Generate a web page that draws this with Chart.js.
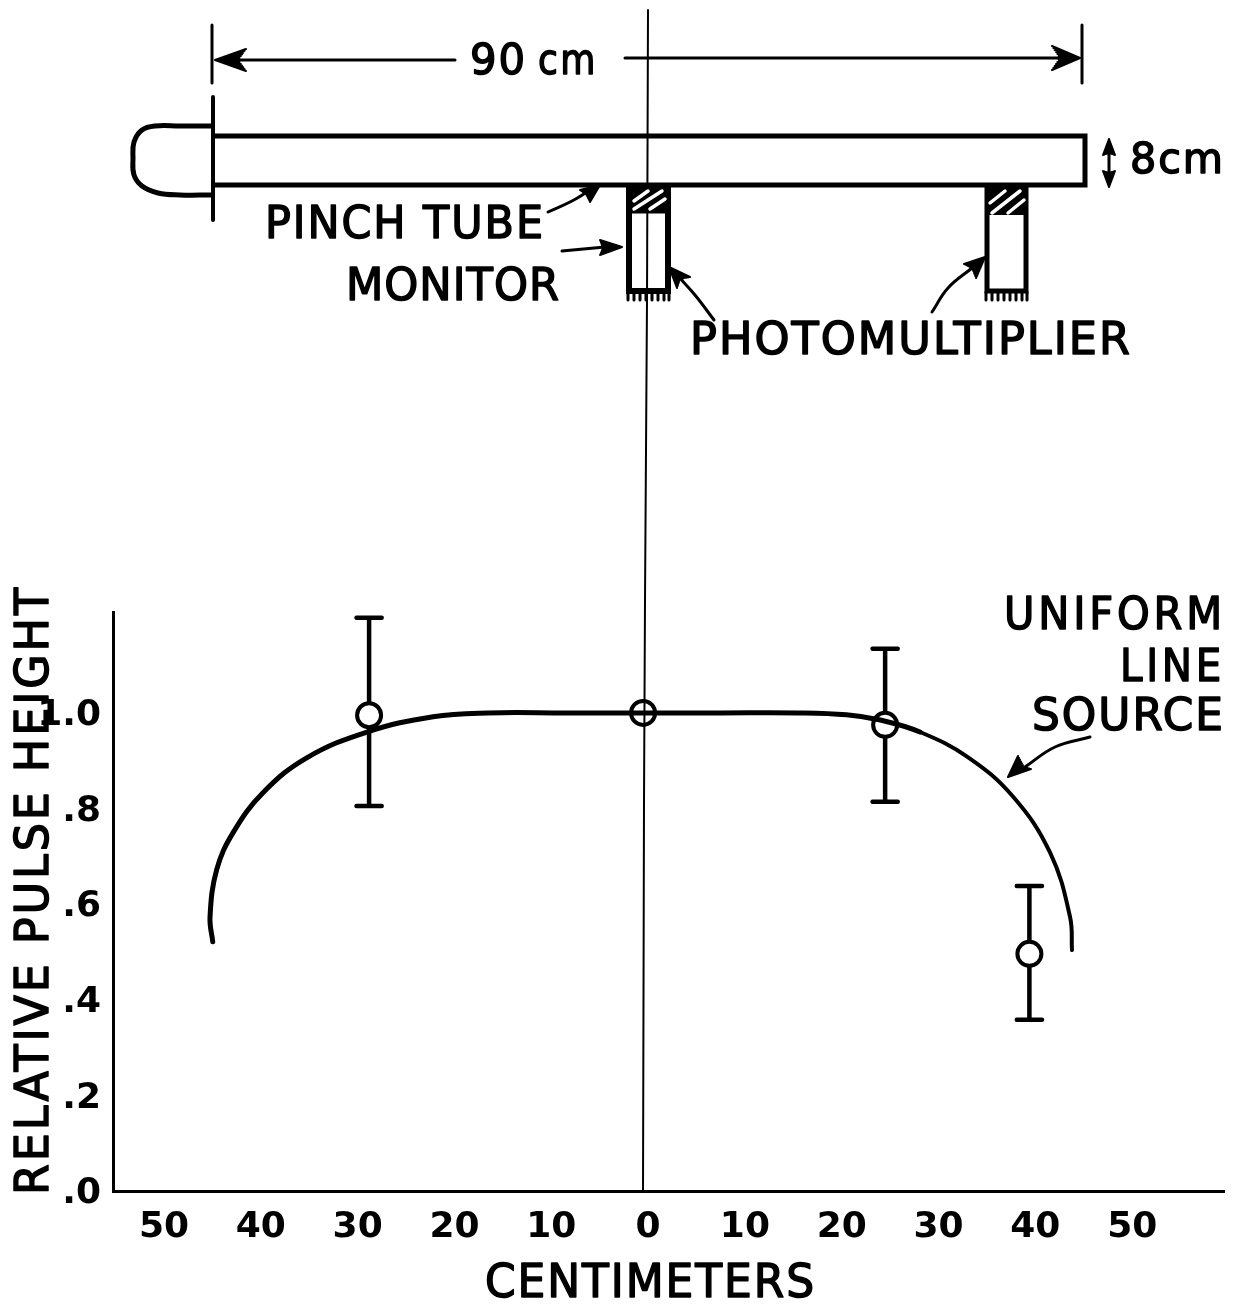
<!DOCTYPE html>
<html><head><meta charset="utf-8">
<style>html,body{margin:0;padding:0;background:#fff}#w{width:1235px;height:1305px}canvas{display:block}</style>
<script src="https://cdn.jsdelivr.net/npm/chart.js@4"></script>
</head><body><div id="w"><canvas id="c" width="1235" height="1305"></canvas></div>
<script>
// Chart values (centimetres, relative pulse height)
const curveX=[-44.45,-44.73,-44.04,-42.36,-39.26,-34.74,-28.51,-21.69,-16,-8,0,8,16,21,24.5,28.6,33.5,38.2,42.05,44.1,44.3];
const curveY=[.5215,.573,.672,.749,.833,.906,.96,.992,1,1,1,1,1,.996,.985,.96,.908,.825,.707,.573,.504];
const obsX=[-28.3,0,25,39.9];
const obsY=[.995,1.0,.975,.496];
const obsHigh=[1.199,null,1.134,.638];
const obsLow=[.805,null,.814,.358];
const capHalf=1.3;
const xTicks=[-50,-40,-30,-20,-10,0,10,20,30,40,50];
const yTicks=[0,.2,.4,.6,.8,1];
const yTickLabels=['.0','.2','.4','.6','.8','1.0'];

// Schematic strokes, in the page-sized diagram scales dx / dy
const centerLine=[[648,10],[647,300],[645,600],[644,800],[643,1191]];
const endBarL=[[212,25],[212,83]];
const endBarR=[[1082,25],[1082,83]];
const dimL=[[220,60],[455,60]];
const dimR=[[625,58],[1075,58]];
const headDimL=[[215,60],[246,49],[238,60],[246,71]];
const headDimR=[[1080,58],[1052,46],[1060,58],[1052,70]];
const tube=[[213,136],[1085,136],[1085,185],[213,185]];
const flange=[[213,97],[213,220]];
const cap=[[212,126],[180,126],[155,126],[142,130],[134,142],[133,158],[134,175],[142,186],[158,193],[180,195],[212,195]];
const size8=[[1109,150],[1109,174]];
const head8a=[[1109,139],[1103,155],[1109,153],[1115,155]];
const head8b=[[1109,187],[1103,171],[1109,173],[1115,171]];
const arrPinch=[[548,212],[572,201],[590,190]];
const headPinch=[[600,185],[580,190],[586,194],[590,202]];
const arrMon=[[562,251],[605,247]];
const headMon=[[622,247],[600,240],[603,248],[600,255]];
const arrPm1=[[714,320],[695,295],[678,276]];
const headPm1=[[669,267],[690,277],[680,279],[677,288]];
const arrPm2=[[932,312],[948,288],[972,268]];
const headPm2=[[985,257],[964,264],[972,268],[976,278]];
const arrLine=[[1090,737],[1055,747],[1025,767]];
const headLine=[[1008,777],[1018,756],[1024,767],[1031,769]];
const pm1Walls=[[629,186],[629,291],[668,291],[668,186]];
const pm2Walls=[[987,186],[987,291],[1026,291],[1026,186]];
const pm1Block=[[629,200],[668,200]];
const pm2Block=[[987,201],[1026,201]];
const pm1Hatch=[[[634,201],[648,191]],[[634,209],[662,191]],[[650,209],[665,199]]];
const pm2Hatch=[[[990,203],[1005,191]],[[992,213],[1020,191]],[[1008,213],[1024,200]]];
const pm1Teeth=[628,634,640,646,652,658,664,669];
const pm2Teeth=[986,992,998,1004,1010,1016,1022,1027];
const teethTop=292, teethBottom=300;

const stroke=(pts,w,extra)=>Object.assign({type:'line',xAxisID:'dx',yAxisID:'dy',data:pts.map(p=>p?{x:p[0],y:p[1]}:{x:null,y:null}),
  borderColor:'#000',borderWidth:w,pointRadius:0,clip:false,tension:0,borderCapStyle:'round',borderJoinStyle:'round',order:5},extra||{});
const joinSegs=segs=>segs.flatMap((s,i)=>i?[null,...s]:s);
const teeth=xs=>joinSegs(xs.map(x=>[[x,teethTop],[x,teethBottom]]));
// solid arrowhead: the outline [tip, back, notch, back] swept with short strokes
const solid=h=>{const [t,...b]=h,out=[];for(let e=0;e<b.length-1;e++)for(let k=0;k<=6;k++){const f=k/6;out.push(t,[b[e][0]+(b[e+1][0]-b[e][0])*f,b[e][1]+(b[e+1][1]-b[e][1])*f]);}return out;};

const errSegs=[];
obsX.forEach((x,i)=>{ if(obsHigh[i]==null) return;
  errSegs.push({x:x,y:obsHigh[i]},{x:x,y:obsLow[i]},{x:null,y:null},
    {x:x-capHalf,y:obsHigh[i]},{x:x+capHalf,y:obsHigh[i]},{x:null,y:null},
    {x:x-capHalf,y:obsLow[i]},{x:x+capHalf,y:obsLow[i]},{x:null,y:null});
});

const datasets=[
  {type:'line',label:'Uniform line source',data:curveX.map((x,i)=>({x:x,y:curveY[i]})),borderColor:'#000',borderWidth:5,pointRadius:0,tension:.4,borderCapStyle:'round',clip:false,order:1,
    segment:{borderWidth:c=>c.p0.parsed.x>28?4:5}},
  {type:'line',label:'Measured',data:obsX.map((x,i)=>({x:x,y:obsY[i]})),showLine:false,pointStyle:'circle',pointRadius:12,pointBorderWidth:4,pointBorderColor:'#000',
    pointBackgroundColor:obsX.map(x=>x===0?'rgba(255,255,255,0)':'#fff'),clip:false,order:2},
  {type:'line',label:'Error',data:errSegs,borderColor:'#000',borderWidth:4.5,pointRadius:0,borderCapStyle:'round',clip:false,order:3},
  stroke(centerLine,2,{order:4}),
  stroke(endBarL,3),stroke(endBarR,3),stroke(dimL,3),stroke(dimR,3),stroke(solid(headDimL),2),stroke(solid(headDimR),2),
  stroke(tube,5,{borderCapStyle:'butt',borderJoinStyle:'miter'}),stroke(flange,4),stroke(cap,5,{tension:.4}),
  stroke(size8,3),stroke(solid(head8a),2),stroke(solid(head8b),2),
  stroke(arrPinch,3,{tension:.4}),stroke(solid(headPinch),2),stroke(arrMon,3),stroke(solid(headMon),2),
  stroke(arrPm1,3,{tension:.4}),stroke(solid(headPm1),2),stroke(arrPm2,3,{tension:.4}),stroke(solid(headPm2),2),
  stroke(arrLine,3,{tension:.4}),stroke(solid(headLine),2),
  stroke(pm1Walls,6,{borderCapStyle:'butt',borderJoinStyle:'miter'}),stroke(pm2Walls,5,{borderCapStyle:'butt',borderJoinStyle:'miter'}),
  stroke(teeth(pm1Teeth),3),stroke(teeth(pm2Teeth),3),
  stroke(pm1Block,27,{borderCapStyle:'butt',order:3.5}),stroke(pm2Block,28,{borderCapStyle:'butt',order:3.5}),
  stroke(joinSegs(pm1Hatch),3.5,{borderColor:'#fff',order:3.2}),stroke(joinSegs(pm2Hatch),3.5,{borderColor:'#fff',order:3.2})
];

// Labels: text, left x, baseline y, width, font size, letter spacing
const FACE='"DejaVu Sans"';
const notes=[
 ['90',470,74,57,43,2],['cm',538,74,60,43,3],['8cm',1130,173,95,42,2],
 ['PINCH TUBE',265,238,280,44,2],['MONITOR',346,300,214,44,1],['PHOTOMULTIPLIER',690,354,442,44,2],
 ['UNIFORM',1004,629,222,44,4],['LINE',1120,681,105,44,4],['SOURCE',1032,730,193,44,2],
 ['CENTIMETERS',485,1297,331,46,2]
];
const yTitle=['RELATIVE PULSE HEIGHT',48,1195,610,46,3];
const put=(ctx,t,x,y,w,s,sp,rot)=>{ctx.save();ctx.font=s+'px '+FACE;ctx.letterSpacing=sp+'px';ctx.fillStyle='#000';ctx.strokeStyle='#000';ctx.lineWidth=1.5;ctx.lineJoin='round';ctx.textAlign='left';ctx.textBaseline='alphabetic';
  const n=ctx.measureText(t).width;ctx.translate(x,y);if(rot)ctx.rotate(-Math.PI/2);ctx.scale(w/n,1);ctx.fillText(t,0,0);ctx.strokeText(t,0,0);ctx.restore();};
const labelPlugin={id:'labels',afterDraw(ch){const c=ch.ctx;notes.forEach(n=>put(c,...n,false));put(c,...yTitle,true);}};

new Chart(document.getElementById('c'),{
  data:{datasets},
  plugins:[labelPlugin],
  options:{responsive:false,animation:false,
    layout:{autoPadding:false,padding:{top:612,right:11,left:0,bottom:0}},
    plugins:{legend:{display:false},tooltip:{enabled:false}},
    scales:{
      x:{type:'linear',min:-54.75,max:60,position:'bottom',
        afterBuildTicks:a=>{a.ticks=xTicks.map(v=>({value:v}));},
        afterFit:a=>{a.height=114;},
        grid:{drawOnChartArea:false,drawTicks:false},
        border:{color:'#000',width:3},
        ticks:{color:'#000',padding:15,labelOffset:5,maxRotation:0,autoSkip:false,font:{family:FACE,size:36,weight:'bold'},callback:v=>String(Math.abs(v))}},
      y:{type:'linear',min:0,max:1.211,position:'left',
        afterBuildTicks:a=>{a.ticks=yTicks.map(v=>({value:v}));},
        afterFit:a=>{a.width=113;},
        grid:{drawOnChartArea:false,drawTicks:false},
        border:{color:'#000',width:3},
        ticks:{color:'#000',padding:12,labelOffset:3,autoSkip:false,font:{family:FACE,size:36,weight:'bold'},callback:(v,i)=>yTickLabels[i]}},
      dx:{type:'linear',display:false,min:113,max:1224},
      dy:{type:'linear',display:false,min:612,max:1191,reverse:true}
    }
  }
});
</script></body></html>
